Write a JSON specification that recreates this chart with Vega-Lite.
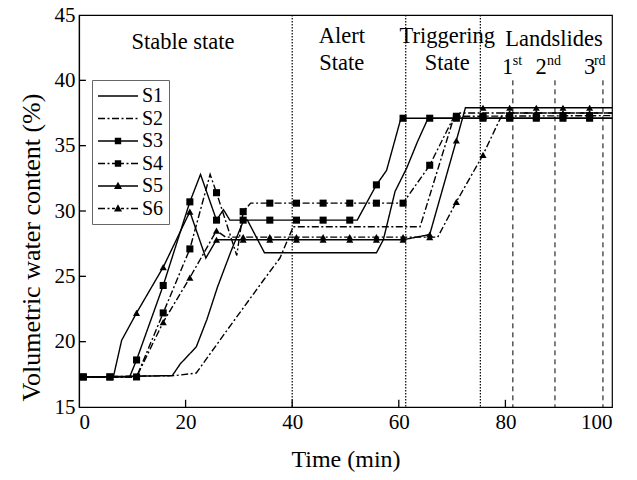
{
  "$schema": "https://vega.github.io/schema/vega-lite/v6.json",
  "width": 533,
  "height": 392,
  "autosize": "none",
  "padding": {"left": 79, "top": 15, "right": 25, "bottom": 73},
  "background": "white",
  "config": {
    "font": "Liberation Serif",
    "view": {"stroke": "black", "strokeWidth": 1.2},
    "axis": {"domainColor": "black", "domainWidth": 1.2, "ticks": false, "labelPadding": 4, "labelColor": "black", "titleColor": "black", "labelFont": "Liberation Serif", "titleFont": "Liberation Serif", "labelFontSize": 21, "titleFontSize": 24, "titleFontWeight": "normal", "grid": false, "zindex": 1},
    "axisX": {"titlePadding": 15},
    "axisY": {"titlePadding": 10, "titleFontSize": 26, "titleY": 232},
    "legend": {"labelFont": "Liberation Serif"}
  },
  "datasets": {
    "lines": [
      {"s": "S1", "t": 0.8, "v": 17.3}, {"s": "S1", "t": 17.5, "v": 17.4}, {"s": "S1", "t": 19, "v": 18.3}, {"s": "S1", "t": 22, "v": 19.6}, {"s": "S1", "t": 24, "v": 21.7}, {"s": "S1", "t": 26, "v": 24.2}, {"s": "S1", "t": 28.5, "v": 26.9}, {"s": "S1", "t": 30.8, "v": 29.2}, {"s": "S1", "t": 31.6, "v": 29.3}, {"s": "S1", "t": 34.8, "v": 26.8}, {"s": "S1", "t": 55.8, "v": 26.8}, {"s": "S1", "t": 57.1, "v": 27.8}, {"s": "S1", "t": 59.3, "v": 31.5}, {"s": "S1", "t": 61.5, "v": 33.3}, {"s": "S1", "t": 63.5, "v": 35.3}, {"s": "S1", "t": 65.5, "v": 37.1}, {"s": "S1", "t": 100, "v": 37.1},
      {"s": "S2", "t": 0.8, "v": 17.3}, {"s": "S2", "t": 18, "v": 17.4}, {"s": "S2", "t": 22, "v": 17.6}, {"s": "S2", "t": 28, "v": 21}, {"s": "S2", "t": 34.6, "v": 24.7}, {"s": "S2", "t": 37.7, "v": 26.4}, {"s": "S2", "t": 40.2, "v": 28.8}, {"s": "S2", "t": 64, "v": 28.8}, {"s": "S2", "t": 70.2, "v": 37.0}, {"s": "S2", "t": 71.5, "v": 37.5}, {"s": "S2", "t": 100, "v": 37.5},
      {"s": "S3", "t": 0.8, "v": 17.3}, {"s": "S3", "t": 5.8, "v": 17.3}, {"s": "S3", "t": 9.5, "v": 17.3}, {"s": "S3", "t": 10.8, "v": 18.6}, {"s": "S3", "t": 15.8, "v": 24.3}, {"s": "S3", "t": 20.8, "v": 30.7}, {"s": "S3", "t": 22.8, "v": 32.8}, {"s": "S3", "t": 25.8, "v": 29.3}, {"s": "S3", "t": 27.1, "v": 30.1}, {"s": "S3", "t": 28.3, "v": 29.3}, {"s": "S3", "t": 50.8, "v": 29.3}, {"s": "S3", "t": 52.2, "v": 29.3}, {"s": "S3", "t": 55.8, "v": 32.0}, {"s": "S3", "t": 57.7, "v": 33.1}, {"s": "S3", "t": 60.4, "v": 37.1}, {"s": "S3", "t": 100, "v": 37.1},
      {"s": "S4", "t": 0.8, "v": 17.3}, {"s": "S4", "t": 10.8, "v": 17.3}, {"s": "S4", "t": 15.8, "v": 22.2}, {"s": "S4", "t": 20.8, "v": 27.1}, {"s": "S4", "t": 24.6, "v": 32.8}, {"s": "S4", "t": 25.8, "v": 31.4}, {"s": "S4", "t": 29.6, "v": 26.6}, {"s": "S4", "t": 30.8, "v": 29.95}, {"s": "S4", "t": 32.2, "v": 30.6}, {"s": "S4", "t": 60.8, "v": 30.6}, {"s": "S4", "t": 65.8, "v": 33.5}, {"s": "S4", "t": 70.2, "v": 37.1}, {"s": "S4", "t": 70.8, "v": 37.25}, {"s": "S4", "t": 100, "v": 37.3},
      {"s": "S5", "t": 0.8, "v": 17.3}, {"s": "S5", "t": 5.8, "v": 17.3}, {"s": "S5", "t": 6.5, "v": 17.4}, {"s": "S5", "t": 8, "v": 20.1}, {"s": "S5", "t": 10.8, "v": 22.2}, {"s": "S5", "t": 15.8, "v": 25.7}, {"s": "S5", "t": 20.8, "v": 29.95}, {"s": "S5", "t": 23.8, "v": 26.4}, {"s": "S5", "t": 25.8, "v": 27.8}, {"s": "S5", "t": 60.8, "v": 27.8}, {"s": "S5", "t": 65.8, "v": 28.2}, {"s": "S5", "t": 70.8, "v": 35.4}, {"s": "S5", "t": 72.5, "v": 37.9}, {"s": "S5", "t": 100, "v": 37.9},
      {"s": "S6", "t": 0.8, "v": 17.3}, {"s": "S6", "t": 10.8, "v": 17.3}, {"s": "S6", "t": 15.8, "v": 21.5}, {"s": "S6", "t": 20.8, "v": 24.9}, {"s": "S6", "t": 25.8, "v": 28.5}, {"s": "S6", "t": 27.5, "v": 28.0}, {"s": "S6", "t": 67.3, "v": 28.0}, {"s": "S6", "t": 70.8, "v": 30.7}, {"s": "S6", "t": 75.8, "v": 34.3}, {"s": "S6", "t": 78.7, "v": 36.8}, {"s": "S6", "t": 79.6, "v": 37.5}, {"s": "S6", "t": 100, "v": 37.5}
    ],
    "readings": [
      {"s": "S3", "t": 0.8, "v": 17.3}, {"s": "S3", "t": 5.8, "v": 17.3}, {"s": "S3", "t": 10.8, "v": 18.6}, {"s": "S3", "t": 15.8, "v": 24.3}, {"s": "S3", "t": 20.8, "v": 30.7}, {"s": "S3", "t": 25.8, "v": 29.3}, {"s": "S3", "t": 30.8, "v": 29.3}, {"s": "S3", "t": 35.8, "v": 29.3}, {"s": "S3", "t": 40.8, "v": 29.3}, {"s": "S3", "t": 45.8, "v": 29.3}, {"s": "S3", "t": 50.8, "v": 29.3}, {"s": "S3", "t": 55.8, "v": 32.0}, {"s": "S3", "t": 60.8, "v": 37.1}, {"s": "S3", "t": 65.8, "v": 37.1}, {"s": "S3", "t": 70.8, "v": 37.1}, {"s": "S3", "t": 75.8, "v": 37.1}, {"s": "S3", "t": 80.8, "v": 37.1}, {"s": "S3", "t": 85.8, "v": 37.1}, {"s": "S3", "t": 90.8, "v": 37.1}, {"s": "S3", "t": 95.8, "v": 37.1},
      {"s": "S4", "t": 0.8, "v": 17.3}, {"s": "S4", "t": 5.8, "v": 17.3}, {"s": "S4", "t": 10.8, "v": 17.3}, {"s": "S4", "t": 15.8, "v": 22.2}, {"s": "S4", "t": 20.8, "v": 27.1}, {"s": "S4", "t": 25.8, "v": 31.4}, {"s": "S4", "t": 30.8, "v": 29.95}, {"s": "S4", "t": 35.8, "v": 30.6}, {"s": "S4", "t": 40.8, "v": 30.6}, {"s": "S4", "t": 45.8, "v": 30.6}, {"s": "S4", "t": 50.8, "v": 30.6}, {"s": "S4", "t": 55.8, "v": 30.6}, {"s": "S4", "t": 60.8, "v": 30.6}, {"s": "S4", "t": 65.8, "v": 33.5}, {"s": "S4", "t": 70.8, "v": 37.25}, {"s": "S4", "t": 75.8, "v": 37.25}, {"s": "S4", "t": 80.8, "v": 37.25}, {"s": "S4", "t": 85.8, "v": 37.25}, {"s": "S4", "t": 90.8, "v": 37.3}, {"s": "S4", "t": 95.8, "v": 37.3},
      {"s": "S5", "t": 0.8, "v": 17.3}, {"s": "S5", "t": 5.8, "v": 17.3}, {"s": "S5", "t": 10.8, "v": 22.2}, {"s": "S5", "t": 15.8, "v": 25.7}, {"s": "S5", "t": 20.8, "v": 29.95}, {"s": "S5", "t": 25.8, "v": 27.8}, {"s": "S5", "t": 30.8, "v": 27.8}, {"s": "S5", "t": 35.8, "v": 27.8}, {"s": "S5", "t": 40.8, "v": 27.8}, {"s": "S5", "t": 45.8, "v": 27.8}, {"s": "S5", "t": 50.8, "v": 27.8}, {"s": "S5", "t": 55.8, "v": 27.8}, {"s": "S5", "t": 60.8, "v": 27.8}, {"s": "S5", "t": 65.8, "v": 28.2}, {"s": "S5", "t": 70.8, "v": 35.4}, {"s": "S5", "t": 75.8, "v": 37.9}, {"s": "S5", "t": 80.8, "v": 37.9}, {"s": "S5", "t": 85.8, "v": 37.9}, {"s": "S5", "t": 90.8, "v": 37.9}, {"s": "S5", "t": 95.8, "v": 37.9},
      {"s": "S6", "t": 0.8, "v": 17.3}, {"s": "S6", "t": 5.8, "v": 17.3}, {"s": "S6", "t": 10.8, "v": 17.3}, {"s": "S6", "t": 15.8, "v": 21.5}, {"s": "S6", "t": 20.8, "v": 24.9}, {"s": "S6", "t": 25.8, "v": 28.5}, {"s": "S6", "t": 30.8, "v": 28.0}, {"s": "S6", "t": 35.8, "v": 28.0}, {"s": "S6", "t": 40.8, "v": 28.0}, {"s": "S6", "t": 45.8, "v": 28.0}, {"s": "S6", "t": 50.8, "v": 28.0}, {"s": "S6", "t": 55.8, "v": 28.0}, {"s": "S6", "t": 60.8, "v": 28.0}, {"s": "S6", "t": 65.8, "v": 28.0}, {"s": "S6", "t": 70.8, "v": 30.7}, {"s": "S6", "t": 75.8, "v": 34.3}, {"s": "S6", "t": 80.8, "v": 37.5}, {"s": "S6", "t": 85.8, "v": 37.5}, {"s": "S6", "t": 90.8, "v": 37.5}, {"s": "S6", "t": 95.8, "v": 37.5}
    ],
    "xticks": [{"t": 20, "v": 15, "v2": 15.55}, {"t": 40, "v": 15, "v2": 15.55}, {"t": 60, "v": 15, "v2": 15.55}, {"t": 80, "v": 15, "v2": 15.55}],
    "yticks": [{"t": 0, "t2": 1.3, "v": 20}, {"t": 0, "t2": 1.3, "v": 25}, {"t": 0, "t2": 1.3, "v": 30}, {"t": 0, "t2": 1.3, "v": 35}, {"t": 0, "t2": 1.3, "v": 40}],
    "phases": [{"t": 40}, {"t": 61.3}, {"t": 75.3}],
    "slides": [{"t": 81.4, "v": 40, "v2": 15}, {"t": 89.3, "v": 40, "v2": 15}, {"t": 98.3, "v": 40, "v2": 15}],
    "notes": [
      {"t": 19.5, "v": 42.9, "text": "Stable state"},
      {"t": 49.3, "v": 43.4, "text": "Alert"},
      {"t": 49.3, "v": 41.3, "text": "State"},
      {"t": 69.1, "v": 43.4, "text": "Triggering"},
      {"t": 69.1, "v": 41.3, "text": "State"},
      {"t": 89.1, "v": 43.2, "text": "Landslides"},
      {"t": 80.4, "v": 41.05, "text": "1"},
      {"t": 86.7, "v": 41.05, "text": "2"},
      {"t": 95.8, "v": 41.05, "text": "3"}
    ],
    "supers": [
      {"t": 81.4, "v": 41.5, "text": "st"},
      {"t": 87.8, "v": 41.5, "text": "nd"},
      {"t": 96.6, "v": 41.5, "text": "rd"}
    ]
  },
  "encoding": {
    "x": {"field": "t", "type": "quantitative", "scale": {"domain": [0, 100], "nice": false}, "axis": {"title": "Time (min)", "values": [0, 20, 40, 60, 80, 100]}}
  },
  "layer": [
    {
      "data": {"name": "phases"},
      "mark": {"type": "rule", "color": "black", "strokeWidth": 1.2, "strokeDash": [1.5, 1.5]},
      "encoding": {}
    },
    {
      "data": {"name": "slides"},
      "mark": {"type": "rule", "color": "black", "strokeWidth": 1, "strokeDash": [5, 4]},
      "encoding": {
        "y": {"field": "v", "type": "quantitative", "scale": {"domain": [15, 45], "nice": false, "zero": false}, "axis": {"title": "Volumetric water content (%)", "values": [15, 20, 25, 30, 35, 40, 45]}},
        "y2": {"field": "v2"}
      }
    },
    {
      "data": {"name": "xticks"},
      "mark": {"type": "rule", "color": "black", "strokeWidth": 1.3},
      "encoding": {
        "y": {"field": "v", "type": "quantitative", "axis": {"title": "Volumetric water content (%)", "values": [15, 20, 25, 30, 35, 40, 45]}},
        "y2": {"field": "v2"}
      }
    },
    {
      "data": {"name": "yticks"},
      "mark": {"type": "rule", "color": "black", "strokeWidth": 1.3},
      "encoding": {
        "x2": {"field": "t2"},
        "y": {"field": "v", "type": "quantitative", "axis": {"title": "Volumetric water content (%)", "values": [15, 20, 25, 30, 35, 40, 45]}}
      }
    },
    {
      "data": {"name": "lines"},
      "mark": {"type": "line", "color": "black", "strokeWidth": 1.4},
      "encoding": {
        "y": {"field": "v", "type": "quantitative", "scale": {"domain": [15, 45], "nice": false, "zero": false}, "axis": {"title": "Volumetric water content (%)", "values": [15, 20, 25, 30, 35, 40, 45]}},
        "strokeDash": {"field": "s", "type": "nominal", "scale": {"domain": ["S1", "S2", "S3", "S4", "S5", "S6"], "range": [[1, 0], [7, 2.5, 2, 2.5], [1, 0], [7, 2.5, 2, 2.5], [1, 0], [7, 2.5, 2, 2.5]]}, "legend": null}
      }
    },
    {
      "data": {"name": "readings"},
      "mark": {"type": "point", "filled": true, "color": "black", "opacity": 1, "size": 50},
      "encoding": {
        "y": {"field": "v", "type": "quantitative", "axis": {"title": "Volumetric water content (%)", "values": [15, 20, 25, 30, 35, 40, 45]}},
        "shape": {"field": "s", "type": "nominal", "scale": {"domain": ["S3", "S4", "S5", "S6"], "range": ["square", "square", "triangle-up", "triangle-up"]}, "legend": null}
      }
    },
    {
      "data": {"name": "lines"},
      "transform": [{"filter": "datum.t == 0.8"}],
      "mark": {"type": "point", "filled": true, "color": "black", "opacity": 0},
      "encoding": {
        "y": {"field": "v", "type": "quantitative", "axis": {"title": "Volumetric water content (%)", "values": [15, 20, 25, 30, 35, 40, 45]}},
        "shape": {
          "field": "s", "type": "nominal",
          "scale": {"domain": ["S1", "S2", "S3", "S4", "S5", "S6"], "range": [
            "M-1,-0.065H3V0.065H-1Z",
            "M-1,-0.065H-0.3V0.065H-1ZM-0.05,-0.065H0.15V0.065H-0.05ZM0.4,-0.065H1.1V0.065H0.4ZM1.35,-0.065H1.55V0.065H1.35ZM1.8,-0.065H2.5V0.065H1.8ZM2.75,-0.065H2.95V0.065H2.75Z",
            "M-1,-0.065H3V0.065H-1ZM0.68,-0.32H1.32V0.32H0.68Z",
            "M-1,-0.065H-0.3V0.065H-1ZM-0.05,-0.065H0.15V0.065H-0.05ZM0.4,-0.065H0.7V0.065H0.4ZM0.68,-0.32H1.32V0.32H0.68ZM1.3,-0.065H1.6V0.065H1.3ZM1.85,-0.065H2.05V0.065H1.85ZM2.3,-0.065H3V0.065H2.3Z",
            "M-1,-0.065H3V0.065H-1ZM1,-0.42L1.4,0.3H0.6Z",
            "M-1,-0.065H-0.3V0.065H-1ZM-0.05,-0.065H0.15V0.065H-0.05ZM0.4,-0.065H0.7V0.065H0.4ZM1,-0.42L1.4,0.3H0.6ZM1.3,-0.065H1.6V0.065H1.3ZM1.85,-0.065H2.05V0.065H1.85ZM2.3,-0.065H3V0.065H2.3Z"
          ]},
          "legend": {
            "title": null, "orient": "none", "legendX": 13, "legendY": 65,
            "symbolSize": 400, "symbolFillColor": "black", "symbolOpacity": 1,
            "labelFontSize": 20, "labelOffset": 23, "rowPadding": 1.5, "padding": 5,
            "strokeColor": "#666", "fillColor": "white",
            "encode": {"symbols": {"update": {"opacity": {"value": 1}, "fill": {"value": "black"}, "fillOpacity": {"value": 1}}}}
          }
        }
      }
    },
    {
      "data": {"name": "notes"},
      "mark": {"type": "text", "fontSize": 22.5, "font": "Liberation Serif", "color": "black", "align": "center", "baseline": "middle"},
      "encoding": {
        "y": {"field": "v", "type": "quantitative", "axis": {"title": "Volumetric water content (%)", "values": [15, 20, 25, 30, 35, 40, 45]}},
        "text": {"field": "text"}
      }
    },
    {
      "data": {"name": "supers"},
      "mark": {"type": "text", "fontSize": 14, "font": "Liberation Serif", "color": "black", "align": "left", "baseline": "middle"},
      "encoding": {
        "y": {"field": "v", "type": "quantitative", "axis": {"title": "Volumetric water content (%)", "values": [15, 20, 25, 30, 35, 40, 45]}},
        "text": {"field": "text"}
      }
    }
  ],
  "resolve": {"scale": {"shape": "independent"}}
}
